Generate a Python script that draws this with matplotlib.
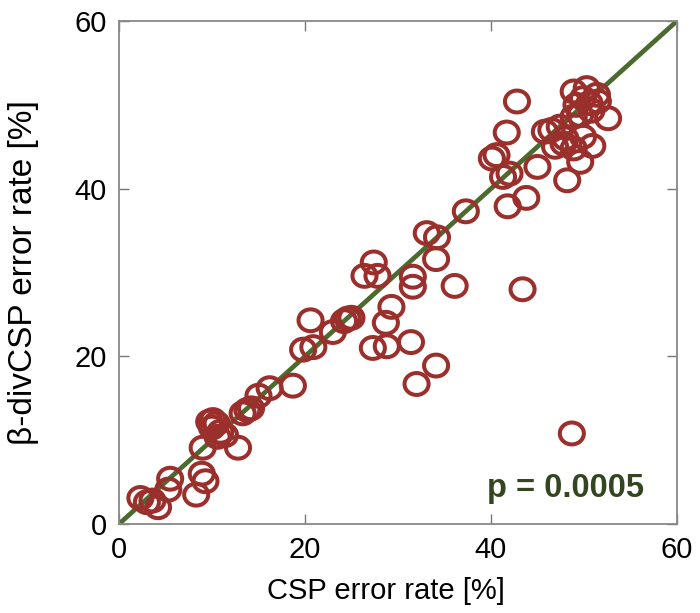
import matplotlib
matplotlib.use("Agg")
import numpy as np
import matplotlib.pyplot as plt
from matplotlib.path import Path

plt.rcParams['font.family'] = ['Liberation Sans', 'DejaVu Sans']

# Per-subject error rates [%]
csp_err = [2.3, 3.0, 3.6, 4.2, 5.5, 5.3, 8.9, 9.3, 8.3, 9.0, 12.8,
           9.7, 10.1, 10.5, 10.0, 10.9, 11.4, 10.6, 13.3, 13.8, 14.2,
           15.0, 16.2, 18.7, 19.8, 20.9, 20.6, 23.0, 24.2, 24.6, 25.0,
           26.4, 27.4, 27.8, 29.3, 28.7, 27.3, 28.8, 31.4, 31.6, 31.6,
           32.0, 34.1, 33.1, 34.2, 34.1, 36.1, 43.4, 37.3, 41.8, 43.8,
           41.3, 42.0, 40.1, 40.6, 41.7, 42.8, 45.0,
           45.8, 46.5, 47.4, 48.0, 46.9, 47.8, 48.9, 49.9, 50.9, 49.6,
           48.2, 49.6, 48.9, 52.6, 48.9, 50.3, 51.4, 49.9, 50.6, 51.5,
           49.2, 50.8, 48.7]
bdiv_err = [3.1, 2.6, 2.8, 2.0, 5.4, 4.1, 6.0, 5.1, 3.5, 9.1, 9.1,
            12.2, 12.4, 12.0, 11.5, 11.0, 10.6, 10.4, 13.2, 13.6, 13.8,
            15.3, 16.2, 16.5, 20.8, 21.1, 24.3, 22.9, 24.2, 24.5, 24.6,
            29.6, 31.2, 29.6, 25.9, 24.0, 21.0, 21.2, 21.7, 29.5, 28.3,
            16.7, 18.9, 34.7, 34.2, 31.6, 28.4, 28.0, 37.3, 37.9, 38.9,
            41.4, 41.8, 43.6, 44.0, 46.7, 50.4, 42.6,
            46.8, 47.0, 47.4, 46.0, 45.0, 45.4, 44.8, 46.2, 45.1, 43.2,
            41.0, 48.8, 48.6, 48.4, 51.6, 52.0, 51.2, 50.8, 50.2, 50.4,
            50.0, 49.3, 10.8]

axis_range = [0, 60]
ticks = [0, 20, 40, 60]
p_label = "p = 0.0005"

# slightly wide ring marker
theta = np.linspace(0, 2 * np.pi, 73)
ring = Path(np.column_stack([1.1 * np.cos(theta), np.sin(theta)]), closed=True)

fig = plt.figure(figsize=(7.0, 6.13), dpi=100)
ax = fig.add_axes([0.17, 0.1452, 0.797, 0.8205])

ax.plot(axis_range, axis_range, color='#4b6b2e', lw=3.4, zorder=1,
        solid_capstyle='butt')
ax.scatter(csp_err, bdiv_err, s=300, marker=ring, facecolors='none',
           edgecolors='#9a2f2c', linewidths=2.9, zorder=2)

ax.set_xlim(axis_range)
ax.set_ylim(axis_range)
ax.set_xticks(ticks)
ax.set_yticks(ticks)
ax.tick_params(direction='in', length=7, width=1, color='#777777',
               labelsize=21, pad=9, top=True, right=True)
for sp in ax.spines.values():
    sp.set_color('#888888')
    sp.set_linewidth(1.3)

ax.set_xlabel("CSP error rate [%]", fontsize=21)
ax.xaxis.set_label_coords(0.478, -0.105)
ax.set_ylabel("β-divCSP error rate [%]", fontsize=24)
ax.yaxis.set_label_coords(-0.143, 0.5)

ax.text(39.6, 3.2, p_label, color='#34461f', fontsize=23.5,
        fontweight='bold', va='baseline', ha='left')

fig.savefig("out.png", dpi=100)
